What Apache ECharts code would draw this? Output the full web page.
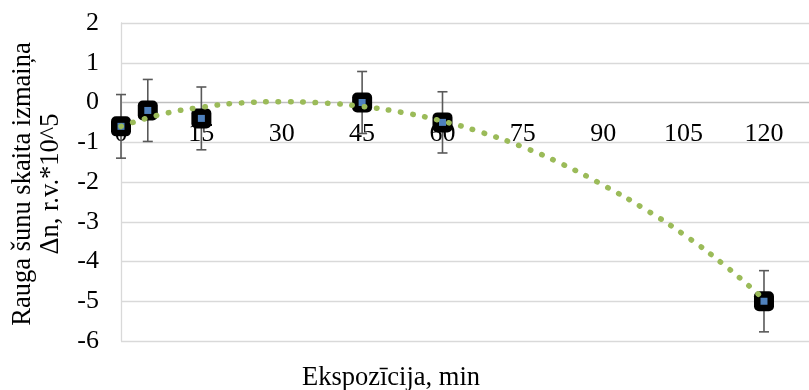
<!DOCTYPE html>
<html>
<head>
<meta charset="utf-8">
<script src="https://cdn.jsdelivr.net/npm/echarts@6/dist/echarts.min.js"></script>
<style>
html,body{margin:0;padding:0;background:#fff;}
#chart{width:809px;height:390px;}
</style>
</head>
<body>
<div id="chart"></div>
<script>
// Measured data
var xValues = [0, 5, 15, 45, 60, 120];
var yValues = [-0.6, -0.2, -0.4, 0.0, -0.5, -5.0];
var yErrors = [0.8, 0.78, 0.79, 0.78, 0.77, 0.77];
// Trendline
var trendX = [0, 7.5, 15, 22.5, 30, 37.5, 45, 52.5, 60, 67.5, 75, 82.5, 90, 97.5, 105, 112.5, 120];
var trendY = [-0.6, -0.3, -0.12, -0.01, 0.02, -0.01, -0.1, -0.25, -0.47, -0.76, -1.12, -1.56, -2.08, -2.66, -3.32, -4.08, -4.95];
var xTicks = [0, 15, 30, 45, 60, 75, 90, 105, 120];
var yTicks = [-6, -5, -4, -3, -2, -1, 0, 1, 2];
var xTitle = 'Ekspozīcija, min';
var yTitle = 'Rauga šunu skaita izmaiņa\nΔn, r.v.*10^5';

var font = 'Liberation Serif';
var points = xValues.map(function (x, i) { return [x, yValues[i]]; });
var errData = xValues.map(function (x, i) { return [x, yValues[i] - yErrors[i], yValues[i] + yErrors[i]]; });
var trendData = trendX.map(function (x, i) { return [x, trendY[i]]; });
var gridColors = yTicks.map(function (v) { return v === 0 ? '#BFBFBF' : '#D9D9D9'; });

var chart = echarts.init(document.getElementById('chart'));
chart.setOption({
  animation: false,
  grid: { left: 121, right: 0, top: 23, bottom: 49, containLabel: false },
  xAxis: {
    type: 'value',
    min: xTicks[0],
    max: 128.4,
    interval: xTicks[1] - xTicks[0],
    axisLine: { show: false, onZero: false },
    axisTick: { show: false },
    splitLine: { show: false },
    axisLabel: {
      fontFamily: font, fontSize: 26, color: '#000', margin: -220,
      showMaxLabel: false,
      formatter: function (v) { return xTicks.indexOf(v) >= 0 ? String(v) : ''; }
    }
  },
  yAxis: {
    type: 'value',
    min: yTicks[0],
    max: yTicks[yTicks.length - 1],
    interval: 1,
    axisLine: { show: true, onZero: false, lineStyle: { color: '#D9D9D9', width: 1.3 } },
    axisTick: { show: false },
    splitLine: { lineStyle: { color: gridColors, width: 1.3 } },
    axisLabel: { fontFamily: font, fontSize: 26, color: '#000', margin: 22 },
    name: yTitle,
    nameLocation: 'middle',
    nameGap: 56,
    nameRotate: 90,
    nameTextStyle: { fontFamily: font, fontSize: 26.5, color: '#000', lineHeight: 28, align: 'center', padding: [0, 4, 0, 0] }
  },
  graphic: [{
    type: 'text', x: 391, y: 378,
    style: { text: xTitle, font: '26.5px "Liberation Serif"', fill: '#000', textAlign: 'center', textVerticalAlign: 'middle' }
  }],
  series: [
    {
      type: 'custom',
      z: 1,
      data: errData,
      renderItem: function (params, api) {
        var lo = api.coord([api.value(0), api.value(1)]);
        var hi = api.coord([api.value(0), api.value(2)]);
        var c = 5;
        var st = { stroke: '#595959', lineWidth: 1.6 };
        return {
          type: 'group',
          children: [
            { type: 'line', shape: { x1: lo[0], y1: lo[1], x2: hi[0], y2: hi[1] }, style: st },
            { type: 'line', shape: { x1: lo[0] - c, y1: lo[1], x2: lo[0] + c, y2: lo[1] }, style: st },
            { type: 'line', shape: { x1: hi[0] - c, y1: hi[1], x2: hi[0] + c, y2: hi[1] }, style: st }
          ]
        };
      }
    },
    {
      type: 'scatter', z: 2, data: points, clip: false,
      symbol: 'roundRect', symbolSize: 20,
      itemStyle: { color: '#000', opacity: 1 }
    },
    {
      type: 'scatter', z: 3, data: points, clip: false,
      symbol: 'rect', symbolSize: 7,
      itemStyle: { color: '#4F81BD', opacity: 1 }
    },
    {
      type: 'line', z: 4, data: trendData,
      smooth: true, showSymbol: false, symbol: 'none',
      lineStyle: { color: '#9BBB59', width: 5.5, type: [0.5, 11.8], cap: 'round' }
    }
  ]
});
</script>
</body>
</html>
